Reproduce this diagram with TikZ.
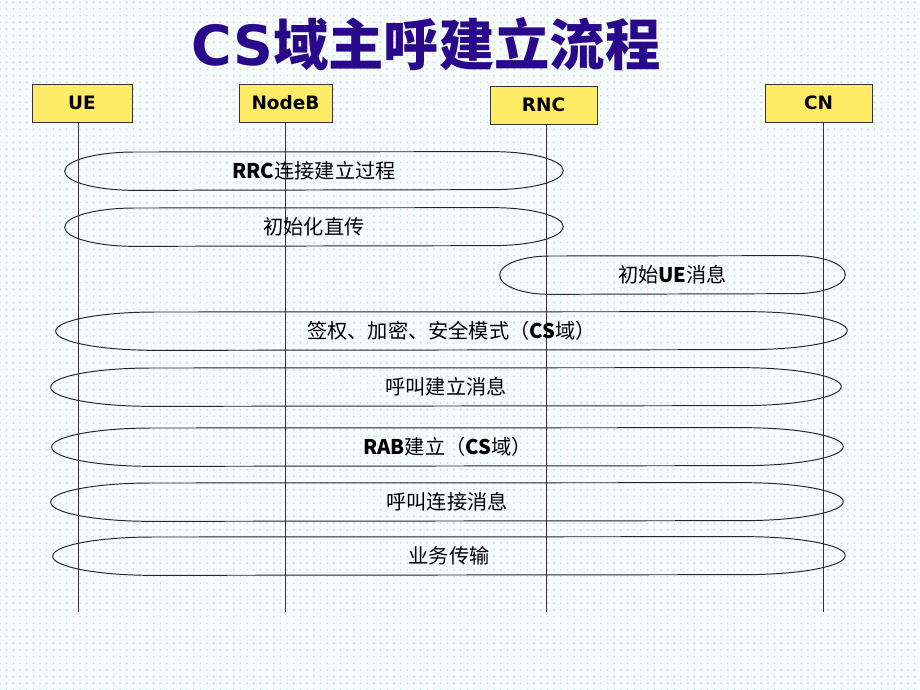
\documentclass[tikz,border=0pt]{standalone}
\usepackage{fontspec}
\setmainfont{DejaVu Sans}
\newfontfamily\cjk{Noto Sans CJK SC}
\usetikzlibrary{patterns.meta}
\definecolor{bgcyan}{RGB}{246,252,251}
\definecolor{dotcyan}{RGB}{196,226,222}
\definecolor{boxyellow}{RGB}{255,236,102}
\definecolor{titleblue}{RGB}{42,8,140}
\newcommand{\en}[1]{{\bfseries #1}}
\begin{document}
\begin{tikzpicture}[x=0.02cm, y=-0.02cm,
    entity/.style={rectangle, draw=black!80, fill=boxyellow, minimum height=0.76cm,
      inner sep=0pt, font=\bfseries\fontsize{10.5}{13}\selectfont},
    msg/.style={rectangle, minimum height=0.76cm, inner sep=0pt,
      font=\cjk\fontsize{11.5}{13}\selectfont},
    outline/.style={draw=black!85, line width=0.55pt, line join=round},
    lifeline/.style={draw=black!80, line width=0.5pt}]
  \fill[bgcyan] (0,0) rectangle (920,690);
  \fill[pattern={Dots[distance=3.8pt, radius=0.55pt]}, pattern color=dotcyan] (0,0) rectangle (920,690);
  \useasboundingbox (0,0) rectangle (920,690);

  \node[font=\cjk\bfseries\fontsize{31.5}{36}\selectfont, text=titleblue] (title) at (426,44)
    {{\fontspec{DejaVu Sans}\bfseries CS}域主呼建立流程};

  % entities
  \node[entity, minimum width=2cm] (ue) at (82,103) {UE};
  \node[entity, minimum width=1.86cm] (nodeb) at (285.5,103) {NodeB};
  \node[entity, minimum width=2.14cm] (rnc) at (543.5,105) {RNC};
  \node[entity, minimum width=2.14cm] (cn) at (818.5,103) {CN};

  \coordinate (ueEnd) at (78,612);
  \coordinate (nodebEnd) at (285,612);
  \coordinate (rncEnd) at (546,612);
  \coordinate (cnEnd) at (823,612);

  \draw[lifeline] (ue.south -| ueEnd) -- (ueEnd);
  \draw[lifeline] (nodeb.south -| nodebEnd) -- (nodebEnd);
  \draw[lifeline] (rnc.south -| rncEnd) -- (rncEnd);
  \draw[lifeline] (cn.south -| cnEnd) -- (cnEnd);

  % procedures
  \node[msg, minimum width=9.96cm] (rrc) at (314,171) {\en{RRC}连接建立过程};
  \node[msg, minimum width=9.96cm] (direct) at (314,227) {初始化直传};
  \node[msg, minimum width=6.9cm] (initue) at (672.5,275) {初始\en{UE}消息};
  \node[msg, minimum width=15.82cm] (auth) at (451.5,331) {签权、加密、安全模式（\en{CS}域）};
  \node[msg, minimum width=15.8cm] (setup) at (446,387) {呼叫建立消息};
  \node[msg, minimum width=15.82cm] (rab) at (447.5,447) {\en{RAB}建立（\en{CS}域）};
  \node[msg, minimum width=15.84cm] (connect) at (447,502) {呼叫连接消息};
  \node[msg, minimum width=15.84cm] (traffic) at (449,556) {业务传输};

  % flattened ovals round the procedures
  \foreach \n/\r in {rrc/1.4cm, direct/1.4cm, initue/1.0cm, auth/2cm,
                     setup/2cm, rab/2cm, connect/2cm, traffic/2cm}
    \draw[outline] (\n.west)
      arc[start angle=180, end angle=90, x radius=\r, y radius=0.38cm]
      -- ([xshift=-\r]\n.north east)
      arc[start angle=90, end angle=-90, x radius=\r, y radius=0.38cm]
      -- ([xshift=\r]\n.south west)
      arc[start angle=270, end angle=180, x radius=\r, y radius=0.38cm] -- cycle;
\end{tikzpicture}
\end{document}
